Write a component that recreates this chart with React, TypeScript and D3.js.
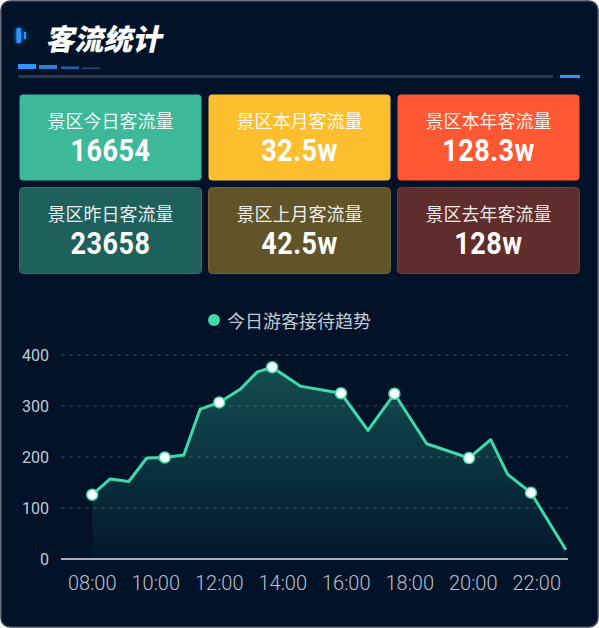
import { useEffect, useRef } from "react";
import * as d3 from "d3";

const cardLabels = [
  "景区今日客流量",
  "景区本月客流量",
  "景区本年客流量",
  "景区昨日客流量",
  "景区上月客流量",
  "景区去年客流量",
];
const cardValues = ["16654", "32.5w", "128.3w", "23658", "42.5w", "128w"];
const cardFills = ["#3db99a", "#fdbf2e", "#fe5733", "#1e605c", "#605428", "#5f2d2c"];
const cardStrokes = ["none", "none", "none", "#2e726c", "#716538", "#713e3c"];

const times = [
  "08:00", "08:34", "09:09", "09:43", "10:17", "10:53", "11:24", "12:00",
  "12:41", "13:12", "13:40", "14:33", "15:50", "16:41", "17:31", "18:32",
  "19:52", "20:33", "21:05", "21:49", "22:55",
];
const visitors = [
  126, 157, 152, 198, 199, 204, 294, 307, 334, 367, 376, 339, 325, 252, 324,
  226, 198, 234, 166, 130, 18,
];
const markedTimes = ["08:00", "10:17", "12:00", "13:40", "15:50", "17:31", "19:52", "21:49"];
const xTicks = ["08:00", "10:00", "12:00", "14:00", "16:00", "18:00", "20:00", "22:00"];
const yTicks = [0, 100, 200, 300, 400];

const LINE = "#3fd9aa";
const CJK = "'Noto Sans CJK SC', sans-serif";

function App() {
  const chartRef = useRef<SVGGElement | null>(null);

  useEffect(() => {
    document.body.style.margin = "0";
    if (!chartRef.current) return;
    const parse = d3.timeParse("%H:%M");
    const g = d3.select(chartRef.current);
    g.selectAll("*").remove();

    const x = d3
      .scaleTime()
      .domain([parse("07:00")!, parse("23:00")!])
      .range([60.5, 568.5]);
    const y = d3.scaleLinear().domain([0, 400]).range([559, 355]);

    const points = times.map((t, i) => ({ t: parse(t)!, v: visitors[i], key: t }));

    // grid
    g.selectAll(".grid")
      .data(yTicks.filter((d) => d > 0))
      .join("line")
      .attr("x1", 61)
      .attr("x2", 568)
      .attr("y1", (d) => y(d))
      .attr("y2", (d) => y(d))
      .attr("stroke", "#33485a")
      .attr("stroke-dasharray", "4,4");

    // y labels
    g.selectAll(".ylab")
      .data(yTicks)
      .join("text")
      .attr("x", 49)
      .attr("y", (d) => y(d))
      .attr("dy", "0.36em")
      .attr("text-anchor", "end")
      .attr("fill", "#c3cad2")
      .style("font-family", "Roboto, sans-serif")
      .style("font-size", "16px")
      .text((d) => d);

    // area
    const defs = g.append("defs");
    const grad = defs
      .append("linearGradient")
      .attr("id", "areaGrad")
      .attr("x1", 0)
      .attr("y1", 0)
      .attr("x2", 0)
      .attr("y2", 1);
    grad.append("stop").attr("offset", "0%").attr("stop-color", LINE).attr("stop-opacity", 0.3);
    grad.append("stop").attr("offset", "100%").attr("stop-color", LINE).attr("stop-opacity", 0.03);

    g.append("path")
      .datum(points)
      .attr("fill", "url(#areaGrad)")
      .attr(
        "d",
        d3
          .area<(typeof points)[number]>()
          .x((d) => x(d.t))
          .y0(y(0))
          .y1((d) => y(d.v))
      );

    // baseline axis
    g.append("line")
      .attr("x1", 61)
      .attr("x2", 568)
      .attr("y1", y(0))
      .attr("y2", y(0))
      .attr("stroke", "#a9b0b8")
      .attr("stroke-width", 2.2);

    // x labels
    g.selectAll(".xlab")
      .data(xTicks)
      .join("text")
      .attr("x", (d) => x(parse(d)!))
      .attr("y", 590)
      .attr("text-anchor", "middle")
      .attr("fill", "#b9c0c8")
      .style("font-family", "Roboto, sans-serif")
      .style("font-weight", 300)
      .style("font-size", "20px")
      .text((d) => d);

    // line
    g.append("path")
      .datum(points)
      .attr("fill", "none")
      .attr("stroke", LINE)
      .attr("stroke-width", 3)
      .attr("stroke-linejoin", "round")
      .attr(
        "d",
        d3
          .line<(typeof points)[number]>()
          .x((d) => x(d.t))
          .y((d) => y(d.v))
      );

    g.selectAll(".dot")
      .data(points.filter((p) => markedTimes.includes(p.key)))
      .join("circle")
      .attr("cx", (d) => x(d.t))
      .attr("cy", (d) => y(d.v))
      .attr("r", 5.5)
      .attr("fill", "#ffffff")
      .attr("stroke", LINE)
      .attr("stroke-width", 1.5);
  }, []);

  const cardW = 183;
  const cardH = 87;

  return (
    <svg
      width={599}
      height={628}
      style={{ position: "absolute", left: 0, top: 0, display: "block" }}
    >
      <defs>
        <filter id="glow" x="-200%" y="-50%" width="500%" height="200%">
          <feGaussianBlur stdDeviation="2" result="b" />
          <feMerge>
            <feMergeNode in="b" />
            <feMergeNode in="SourceGraphic" />
          </feMerge>
        </filter>
      </defs>
      <rect x={0} y={0} width={599} height={628} fill="#ffffff" />
      <rect
        x={1}
        y={1}
        width={597}
        height={626}
        rx={9}
        fill="#011229"
        stroke="#3a4656"
        strokeWidth={1.5}
      />

      {/* header */}
      <g filter="url(#glow)">
        <rect x={16.5} y={28} width={4.5} height={15} rx={1} fill="#2f95ff" />
        <rect x={24} y={32} width={2} height={7} fill="#2f95ff" />
      </g>
      <text
        x={47}
        y={50}
        fill="#ffffff"
        transform="skewX(-12) translate(9,0)"
        style={{ fontFamily: CJK, fontWeight: 900, fontSize: 29 }}
      >
        客流统计
      </text>
      <rect x={18} y={64} width={18} height={5} fill="#2f95ff" />
      <rect x={39} y={65} width={18} height={4} fill="#2a7fd6" />
      <rect x={61} y={66.5} width={18} height={2.5} fill="#2265ab" />
      <rect x={82} y={67.5} width={18} height={1.5} fill="#1b4f86" />
      <rect x={18} y={75} width={535} height={3} fill="#2b3a4a" />
      <rect x={560} y={75} width={20} height={3} fill="#2f95ff" />

      {/* cards */}
      {cardLabels.map((label, i) => {
        const cx = 19 + (i % 3) * (cardW + 6);
        const cy = 94 + Math.floor(i / 3) * (cardH + 6);
        return (
          <g key={label}>
            <rect
              x={cx + 0.5}
              y={cy + 0.5}
              width={cardW - 1}
              height={cardH - 1}
              rx={4}
              fill={cardFills[i]}
              stroke={cardStrokes[i]}
            />
            <text
              x={cx + cardW / 2}
              y={cy + 26}
              textAnchor="middle"
              dominantBaseline="central"
              fill="#ffffff"
              fillOpacity={0.92}
              style={{ fontFamily: CJK, fontSize: 18 }}
            >
              {label}
            </text>
            <text
              transform={`translate(${cx + cardW / 2},${cy + 67}) scale(0.87,1)`}
              textAnchor="middle"
              fill="#ffffff"
              style={{
                fontFamily: "Roboto, sans-serif",
                fontWeight: 700,
                fontSize: 31,
                letterSpacing: 0.6,
              }}
            >
              {cardValues[i]}
            </text>
          </g>
        );
      })}

      {/* legend */}
      <circle cx={214} cy={320} r={6} fill={LINE} />
      <text
        x={227}
        y={320}
        dominantBaseline="central"
        fill="#c3c9d0"
        style={{ fontFamily: CJK, fontSize: 18 }}
      >
        今日游客接待趋势
      </text>

      <g ref={chartRef} />
    </svg>
  );
}

export default App;
